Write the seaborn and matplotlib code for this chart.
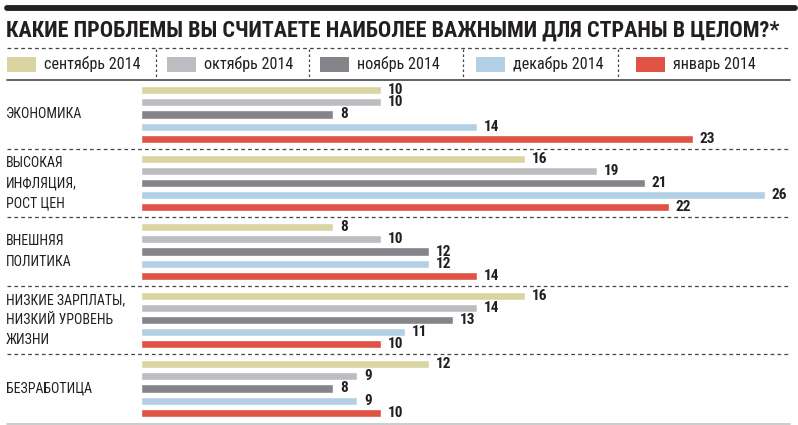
import matplotlib
matplotlib.use("Agg")
import matplotlib.pyplot as plt
import seaborn as sns
import pandas as pd
from matplotlib.lines import Line2D
from matplotlib.patches import Rectangle
from matplotlib.transforms import blended_transform_factory

title = "КАКИЕ ПРОБЛЕМЫ ВЫ СЧИТАЕТЕ НАИБОЛЕЕ ВАЖНЫМИ ДЛЯ СТРАНЫ В ЦЕЛОМ?*"
categories = ["ЭКОНОМИКА",
              "ВЫСОКАЯ\nИНФЛЯЦИЯ,\nРОСТ ЦЕН",
              "ВНЕШНЯЯ\nПОЛИТИКА",
              "НИЗКИЕ ЗАРПЛАТЫ,\nНИЗКИЙ УРОВЕНЬ\nЖИЗНИ",
              "БЕЗРАБОТИЦА"]
months = ["сентябрь 2014", "октябрь 2014", "ноябрь 2014", "декабрь 2014", "январь 2014"]
sep_vals = [10, 16, 8, 16, 12]
oct_vals = [10, 19, 10, 14, 9]
nov_vals = [8, 21, 12, 13, 8]
dec_vals = [14, 26, 12, 11, 9]
jan_vals = [23, 22, 14, 10, 10]
colors = ["#d9d4a2", "#bdbdc1", "#858589", "#b2d0e5", "#e05243"]

series = [sep_vals, oct_vals, nov_vals, dec_vals, jan_vals]
rows = []
for m, vals in zip(months, series):
    for c, v in zip(categories, vals):
        rows.append({"cat": c, "month": m, "val": v})
df = pd.DataFrame(rows)

sns.set_theme(style="white")
FONT = ["Roboto Condensed", "Liberation Sans Narrow", "Open Sans Condensed", "DejaVu Sans"]
plt.rcParams["font.family"] = FONT
plt.rcParams["font.stretch"] = "condensed"

W, H = 798, 425
fig = plt.figure(figsize=(W / 100, H / 100), dpi=100)

def fx(x):
    return x / W

def fy(y):
    return 1 - y / H

ax_left, ax_right, ax_top, ax_bot = 141, 790, 80.25, 422.75
ax = fig.add_axes([fx(ax_left), fy(ax_bot), fx(ax_right - ax_left), (ax_bot - ax_top) / H])
sns.barplot(data=df, y="cat", x="val", hue="month", orient="h",
            palette=colors, saturation=1, dodge=True, width=0.885, gap=0.34,
            legend=False, ax=ax, order=categories, hue_order=months)
ax.set_xlim(0, (ax_right - ax_left) / 24.0)
ax.set_ylim(4.5, -0.5)
ax.set_axis_off()

for cont in ax.containers:
    ax.bar_label(cont, padding=5, fontsize=11, fontweight="bold", color="#231f20",
                 fontstretch="condensed")

# category labels
tr = blended_transform_factory(fig.transFigure, ax.transData)
for i, c in enumerate(categories):
    ax.text(fx(6), i, c, transform=tr, ha="left", va="center", fontsize=10,
            color="#231f20", linespacing=1.55, fontstretch="condensed")

# separators between groups
for b in [0.5, 1.5, 2.5, 3.5]:
    fig.add_artist(Line2D([fx(7), fx(790)], [b, b], transform=tr, color="#444444",
                          lw=0.9, linestyle=(0, (3, 2.5)), clip_on=False))

# top thick line
fig.add_artist(Line2D([fx(7), fx(795)], [fy(8), fy(8)], color="#231f20", lw=4.2))
# title
fig.text(fx(6), fy(31), title, ha="left", va="center", fontsize=15.9,
         fontweight="bold", color="#231f20", fontstretch="condensed")
# dashed line under title
fig.add_artist(Line2D([fx(7), fx(790)], [fy(48), fy(48)], color="#444444",
                      lw=0.9, linestyle=(0, (3, 2.5))))
# legend
sw_x = [7, 167, 320, 476, 636]
for x0, m, col in zip(sw_x, months, colors):
    fig.add_artist(Rectangle((fx(x0), fy(72)), fx(29), 15 / H, color=col, lw=0))
    fig.text(fx(x0 + 37), fy(64.5), m, ha="left", va="center", fontsize=11.6,
             color="#231f20", fontstretch="condensed")
for xs in [156, 309, 463, 618]:
    fig.add_artist(Line2D([fx(xs), fx(xs)], [fy(49), fy(79)], color="#444444",
                          lw=0.9, linestyle=(0, (2, 2))))
# line under legend
fig.add_artist(Line2D([fx(7), fx(790)], [fy(79.5), fy(79.5)], color="#555555", lw=1.3))
# bottom line
fig.add_artist(Line2D([fx(7), fx(790)], [fy(424), fy(424)], color="#c8c8c8", lw=1.3))

fig.savefig("out.png", dpi=100)
